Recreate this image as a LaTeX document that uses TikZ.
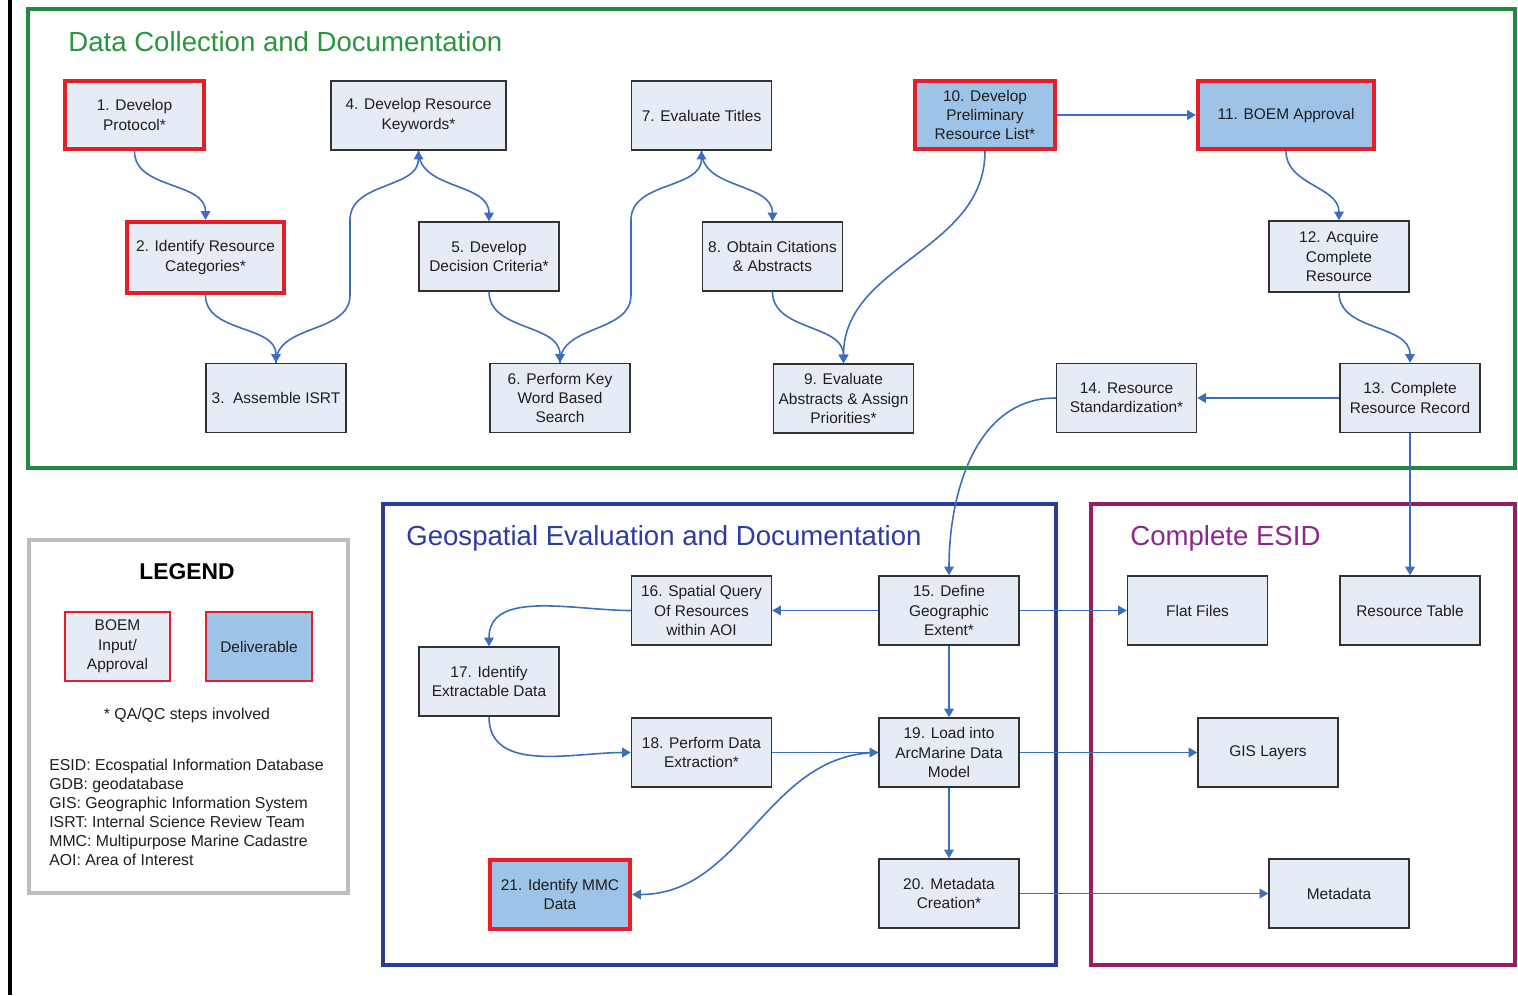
\documentclass[tikz,border=0pt]{standalone}
\usepackage{fontspec}
\setmainfont{Liberation Sans}
\usetikzlibrary{arrows.meta}
\definecolor{gframe}{RGB}{30,140,60}
\definecolor{gtitle}{RGB}{40,150,60}
\definecolor{bframe}{RGB}{40,60,160}
\definecolor{btitle}{RGB}{45,60,165}
\definecolor{pframe}{RGB}{150,30,100}
\definecolor{ptitle}{RGB}{140,40,140}
\definecolor{lgray}{RGB}{190,190,190}
\definecolor{arrowc}{RGB}{60,110,190}
\definecolor{boxfill}{RGB}{230,236,245}
\definecolor{delivfill}{RGB}{157,195,230}
\definecolor{redb}{RGB}{230,30,40}
\definecolor{boxline}{RGB}{50,50,50}
\definecolor{txt}{RGB}{30,30,30}
\begin{document}
\begin{tikzpicture}[x=0.02cm,y=-0.02cm,
  box/.style={draw=boxline, fill=boxfill, line width=0.8pt, minimum width=2.8cm, minimum height=1.38cm,
    align=center, inner sep=1pt, text=txt, font=\fontsize{8.8}{11}\selectfont},
  redbox/.style={box, draw=redb, line width=2.4pt, minimum height=1.36cm},
  delbox/.style={redbox, fill=delivfill},
  conn/.style={draw=arrowc, line width=0.9pt, -{Triangle[width=5.5pt,length=5pt]}},
  frametitle/.style={anchor=west, inner sep=0pt, font=\fontsize{15.7}{18}\selectfont}
]
\useasboundingbox (0,0) rectangle (1518,995);
\fill[white] (0,0) rectangle (1518,995);
\draw[line width=2.2pt, black] (10,0) -- (10,995);

% frames
\draw[gframe, line width=2.2pt] (28,9) rectangle (1515,468);
\draw[bframe, line width=2pt] (383,504) rectangle (1056,965);
\draw[pframe, line width=1.8pt] (1091,504) rectangle (1515,965);
\draw[lgray, line width=2pt] (29,540) rectangle (348,893);

\node[frametitle, text=gtitle] (t1) at (68,42) {Data Collection and Documentation};
\node[frametitle, text=btitle] (t2) at (406,538) {Geospatial Evaluation and Documentation};
\node[frametitle, text=ptitle] (t3) at (1130,538) {Complete ESID};

% top section
\node[redbox, minimum width=2.78cm] (n1) at (134.5,115) {1. Develop\\Protocol*};
\node[redbox, minimum width=3.14cm, minimum height=1.42cm] (n2) at (205.5,257.5) {2. Identify Resource\\Categories*};
\node[box] (n3) at (276,398) {3.\ \ Assemble ISRT};
\node[box, minimum width=3.5cm] (n4) at (418.5,115.5) {4. Develop Resource\\Keywords*};
\node[box] (n5) at (489,256.5) {5. Develop\\Decision Criteria*};
\node[box] (n6) at (560,398) {6. Perform Key\\Word Based\\Search};
\node[box] (n7) at (701.5,115.5) {7. Evaluate Titles};
\node[box] (n8) at (772.5,256.5) {8. Obtain Citations\\\& Abstracts};
\node[box] (n9) at (843.5,398.5) {9. Evaluate\\Abstracts \& Assign\\Priorities*};
\node[delbox, minimum width=2.8cm] (n10) at (985,115) {10. Develop\\Preliminary\\Resource List*};
\node[delbox, minimum width=3.52cm] (n11) at (1286,115) {11. BOEM Approval};
\node[box, minimum height=1.42cm] (n12) at (1339,256.5) {12. Acquire\\Complete\\Resource};
\node[box] (n13) at (1410,398) {13. Complete\\Resource Record};
\node[box] (n14) at (1126.5,398) {14. Resource\\Standardization*};

% geospatial section
\node[box] (n15) at (949,610.5) {15. Define\\Geographic\\Extent*};
\node[box] (n16) at (701.5,610.5) {16. Spatial Query\\Of Resources\\within AOI};
\node[box] (n17) at (489,681.5) {17. Identify\\Extractable Data};
\node[box] (n18) at (701.5,752.5) {18. Perform Data\\Extraction*};
\node[box] (n19) at (949,752.5) {19. Load into\\ArcMarine Data\\Model};
\node[box] (n20) at (949,893.5) {20. Metadata\\Creation*};
\node[delbox, minimum width=2.8cm, minimum height=1.38cm] (n21) at (560,894.5) {21. Identify MMC\\Data};

% ESID section
\node[box] (ff) at (1197.5,610.5) {Flat Files};
\node[box] (rt) at (1410,610.5) {Resource Table};
\node[box] (gis) at (1268,752.5) {GIS Layers};
\node[box] (meta) at (1339,893.5) {Metadata};

% legend
\node[font=\bfseries\fontsize{13}{15}\selectfont, text=black] (lg) at (187,572) {LEGEND};
\node[box, draw=redb, line width=1.2pt, minimum width=2.1cm, minimum height=1.38cm] (lb1) at (117.5,646.5) {BOEM\\Input/\\Approval};
\node[box, draw=redb, fill=delivfill, line width=1.2pt, minimum width=2.12cm, minimum height=1.38cm] (lb2) at (259,646.5) {Deliverable};
\node[text=txt, font=\fontsize{9}{11}\selectfont] (qa) at (187,715) {* QA/QC steps involved};
\node[anchor=west, align=left, inner sep=0pt, text=txt, font=\fontsize{9}{10.8}\selectfont] (defs) at (49,812.5)
 {ESID: Ecospatial Information Database\\GDB: geodatabase\\GIS: Geographic Information System\\ISRT: Internal Science Review Team\\MMC: Multipurpose Marine Cadastre\\AOI: Area of Interest};

% connectors top
\draw[conn] (n1.south) to[out=-90,in=90] (n2.north);
\draw[conn] (n2.south) to[out=-90,in=90] (n3.north);
\draw[conn] (n3.north) to[out=90,in=-90] (350,295) -- (350,220) to[out=90,in=-90] (n4.south);
\draw[conn] (n4.south) to[out=-90,in=90] (n5.north);
\draw[conn] (n5.south) to[out=-90,in=90] (n6.north);
\draw[conn] (n6.north) to[out=90,in=-90] (631,295) -- (631,220) to[out=90,in=-90] (n7.south);
\draw[conn] (n7.south) to[out=-90,in=90] (n8.north);
\draw[conn] (n8.south) to[out=-90,in=90] (n9.north);
\draw[conn] (n10.south) to[out=-90,in=90] (n9.north);
\draw[conn] (n10.east) -- (n11.west);
\draw[conn] (n11.south) to[out=-90,in=90] (n12.north);
\draw[conn] (n12.south) to[out=-90,in=90] (n13.north);
\draw[conn] (n13.west) -- (n14.east);
\draw[conn] (n14.west) to[out=180,in=90] (n15.north);
\draw[conn] (n13.south) -- (rt.north);

% connectors bottom
\draw[conn] (n15.west) -- (n16.east);
\draw[conn] (n16.west) to[out=180,in=90] (n17.north);
\draw[conn] (n17.south) to[out=-90,in=180] (n18.west);
\draw[conn] (n18.east) -- (n19.west);
\draw[conn] (n15.south) -- (n19.north);
\draw[conn] (n19.south) -- (n20.north);
\draw[conn] (n19.west) to[out=180,in=0] (n21.east);
\draw[conn] (n15.east) -- (ff.west);
\draw[conn] (n19.east) -- (gis.west);
\draw[conn] (n20.east) -- (meta.west);
\end{tikzpicture}
\end{document}
